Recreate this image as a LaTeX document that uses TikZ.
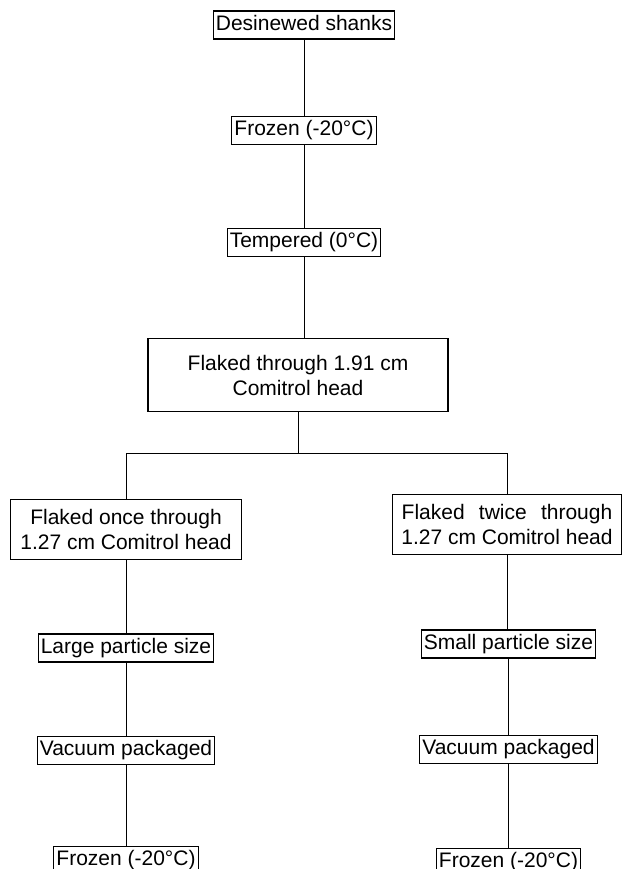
\documentclass[tikz,border=0pt]{standalone}
\usepackage{fontspec}
\setmainfont{Liberation Sans}
\usetikzlibrary{positioning}

\begin{document}
\begin{tikzpicture}[font=\fontsize{10.5pt}{12.5pt}\selectfont,
        stage/.style={draw,
              semithick,
              inner xsep=1.3pt,
              inner ysep=2pt,
              text height=.75em,
              text depth=.25em},
        twoline/.style={draw,
              semithick,
              align=center,
              inner xsep=5pt,
              minimum height=30pt}]
        \useasboundingbox (0,0) rectangle (312pt,-434.5pt);
        \node[stage] (desin) at (152pt,-12.5pt) {Desinewed shanks};
        \node[stage,
              below=38pt of desin] (froz) {Frozen (-20°C)};
        \node[stage,
              below=41.5pt of froz] (temp) {Tempered (0°C)};
        \node[twoline,
              below=40.5pt of temp,
              xshift=-3pt,
              minimum width=150pt,
              minimum height=36.5pt] (flk) {Flaked through 1.91 cm\\Comitrol head};
        \coordinate[below=20.5pt of flk] (split);
        \node[twoline,
              below=43.5pt of flk,
              xshift=-86pt] (once) {Flaked once through\\1.27 cm Comitrol head};
        \node[twoline,
              below=41pt of flk,
              xshift=104.5pt,
              inner xsep=4.5pt] (twice) {Flaked\hspace{.4em} twice\hspace{.4em} through\\1.27 cm Comitrol head};
        \node[stage,
              below=36.5pt of once] (large) {Large particle size};
        \node[stage,
              below=36.5pt of large] (vacl) {Vacuum packaged};
        \node[stage,
              below=40.5pt of vacl] (frozl) {Frozen (-20°C)};
		\node[stage,
              below=37pt of twice,
              xshift=.75pt] (small) {Small particle size};
        \node[stage,
              below=38pt of small] (vacr) {Vacuum packaged};
        \node[stage,
              below=42pt of vacr] (frozr) {Frozen (-20°C)};
        \draw (desin) edge (froz)
            (froz) edge (temp)
            (temp) edge (temp |- flk.north)
            (flk) edge (split)
            (once) edge (large)
            (large) edge (vacl)
            (vacl) edge (frozl)
            (twice) edge (twice |- small.north)
            (small) edge (vacr)
            (vacr) edge (frozr);
        \draw (once) |- (split) -| (twice);
       \end{tikzpicture}
\end{document}
